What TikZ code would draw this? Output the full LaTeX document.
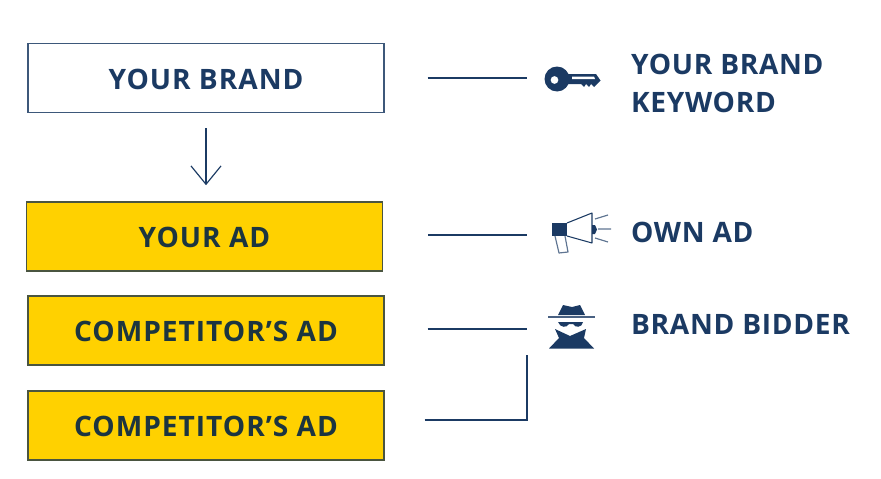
\documentclass[tikz,border=0pt]{standalone}
\usepackage{fontspec}
\setmainfont{Open Sans}
\newfontfamily\boxfont[LetterSpace=3.5]{Open Sans}
\newfontfamily\lblfont[LetterSpace=2.4]{Open Sans}
\usetikzlibrary{calc,arrows.meta}
\definecolor{navy}{HTML}{1B3A63}
\definecolor{adyellow}{HTML}{FFD100}
\definecolor{adline}{HTML}{4A5540}
\definecolor{adtext}{HTML}{1C3540}
\tikzset{
    brandbox/.style={draw=navy!85!white,line width=1.2pt,fill=white,text=navy,minimum width=10.67cm,minimum height=2.07cm,text height=0.67cm,text depth=0cm,font=\fontsize{24}{28}\boxfont\bfseries},
    adbox/.style={brandbox,draw=adline,fill=adyellow,text=adtext},
    wire/.style={navy,line width=1pt},
    lbl/.style={anchor=west,text=navy,font=\fontsize{24}{28}\lblfont\bfseries},
}
\begin{document}
\begin{tikzpicture}[x=0.03cm,y=-0.03cm]
    \useasboundingbox (0,0) rectangle (881,478);
    \node[brandbox] (brand) at (206,78) {YOUR BRAND};
    \node[adbox] (yourad) at (204.5,236.5) {YOUR AD};
    \node[adbox] (compa) at (206,330.5) {COMPETITOR’S AD};
    \node[adbox] (compb) at (206,425.5) {COMPETITOR’S AD};
    % connectors
    \coordinate (arrowtop) at ($(brand.south)+(0,15)$);
    \coordinate (arrowend) at ($(arrowtop)+(0,57)$);
    \draw[wire,-{Straight Barb[length=0.55cm,width=0.9cm]}] (arrowtop) -- (arrowend);
    \coordinate (keyend) at (527,78);
    \coordinate (ownend) at (527,235);
    \coordinate (spyend) at (527,329);
    \coordinate (cornerend) at (527,355);
    \draw[wire] ($(brand.east)+(43,0)$) -- (keyend);
    \draw[wire] ($(yourad.east)+(45,-1.5)$) -- (ownend);
    \draw[wire] ($(compa.east)+(43,-1.5)$) -- (spyend);
    \draw[wire] ($(compb.east)+(40,-5.5)$) -| (cornerend);
    % key
    \fill[navy,even odd rule] (557,79) circle (12.5) (554.5,80) circle (4);
    \fill[navy] (566,74) -- (596,74) -- (600.5,80.5) -- (597,84) -- (594,87) -- (591,84) -- (589,87) -- (586,84) -- (584,87) -- (581,84) -- (566,84) -- cycle;
    \fill[white] (572,76.5) -- (594,76.5) -- (595,79) -- (572,79) -- cycle;
    % megaphone
    \fill[navy] (552,223) rectangle (567,236);
    \draw[navy,line width=0.9pt,line join=round] (567,223) -- (592,213) -- (592,243) -- (567,236);
    \draw[navy!70!white,line width=1pt,line join=round] (555,236) -- (559,253) -- (568,252) -- (565,236);
    \fill[navy] (592,225) -- (595,225) -- (597,229.5) -- (595,234) -- (592,234) -- cycle;
    \draw[navy!70!white,line width=1pt] (595,219) -- (608,215) (598,229) -- (611,229) (595,238) -- (608,242);
    % spy
    \fill[navy] (558,315) -- (563,305) -- (572,307) -- (580,305) -- (585,315) -- cycle;
    \draw[navy!80!white,line width=1.1pt] (548,317) -- (595,317);
    \fill[navy] (558,322) -- (583,322) .. controls (582,328) and (575,328) .. (573,324) -- (569,324) .. controls (567,328) and (560,328) .. (558,322) -- cycle;
    \fill[navy] (555,329) -- (570,336) -- (586,329) -- (584,338) -- (594,348.5) -- (549,348.5) -- (559,338) -- cycle;
    % labels
    \node[lbl] (keylbl) at (627,64) {YOUR BRAND};
    \node[lbl] (keylblb) at (627,102) {KEYWORD};
    \node[lbl] (ownlbl) at (627,232) {OWN AD};
    \node[lbl] (spylbl) at (627,324) {BRAND BIDDER};
\end{tikzpicture}
\end{document}
